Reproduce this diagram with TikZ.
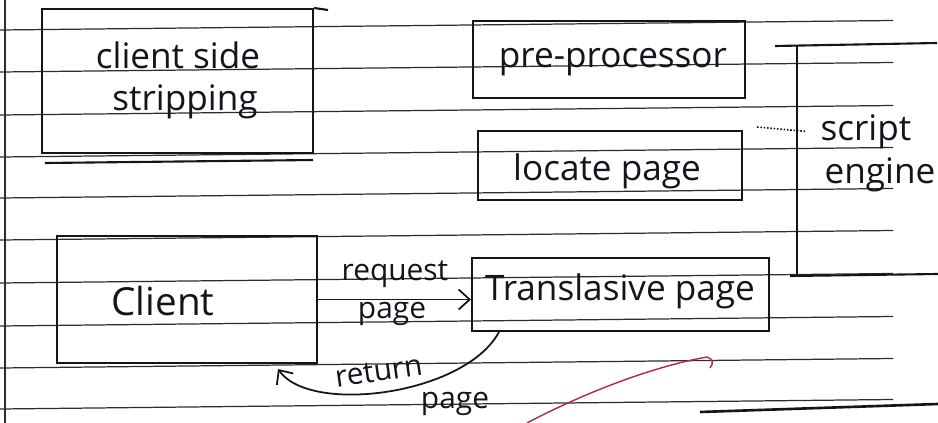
\documentclass[tikz,border=0pt]{standalone}
\usepackage{fontspec}
\setmainfont{Open Sans}
\usetikzlibrary{arrows.meta}
\definecolor{ink}{RGB}{20,20,28}
\definecolor{ruleink}{RGB}{45,45,45}
\definecolor{redpen}{RGB}{180,40,70}
\begin{document}
\begin{tikzpicture}[x=0.02cm,y=-0.02cm,
  ruled/.style={draw=ruleink,line width=0.7pt},
  pen/.style={draw=ink,line width=1.2pt},
  box/.style={draw=ink,line width=1.2pt,inner sep=0pt},
  hand/.style={text=ink,inner sep=0pt,anchor=base,font=\fontsize{20}{22}\selectfont},
  small/.style={text=ink,inner sep=0pt,anchor=base,font=\fontsize{17}{19}\selectfont},
  arr/.style={draw=ink,line width=1.0pt,-{Straight Barb[length=2.2mm,width=4mm]}}]
\fill[white] (0,0) rectangle (938,423);
\useasboundingbox (0,0) rectangle (938,423);
% ruled paper lines
\foreach \yy in {30,72,115,157,198,240,283,326,368,409}
  \draw[ruled] (0,\yy) -- (893,\yy-9.5);
\draw[ruled] (5,0) -- (5,423);
\draw[ink,line width=1.5pt] (700,412) -- (938,404);
% boxes
\node[box,minimum width=5.42cm,minimum height=2.88cm] (css) at (177.5,81) {};
\node[box,minimum width=5.44cm,minimum height=1.54cm] (pre) at (609,59.5) {};
\node[box,minimum width=5.28cm,minimum height=1.38cm] (loc) at (610,165.5) {};
\node[box,minimum width=5.2cm,minimum height=2.54cm] (cli) at (187,299.5) {};
\node[box,minimum width=5.94cm,minimum height=1.46cm] (tra) at (620.5,294.5) {};
% extra hand strokes of the boxes
\draw[pen] (css.north east) -- (328,10);
\draw[pen] (45,163) -- (313,160);
% script engine bracket
\coordinate (seTop) at (797,45);
\coordinate (seBot) at (797,275);
\draw[pen] (775,46) -- (937,43);
\draw[pen] (seTop) -- (seBot);
\draw[pen] (790,276) -- (938,274);
% texts
\node[hand] (t1) at (178,68) {client side};
\node[hand] (t2) at (185,110) {stripping};
\node[hand] (t3) at (613,67) {pre-processor};
\node[hand] (t4) at (607,180) {locate page};
\node[hand] (t5) at (866,140) {script};
\node[hand] (t6) at (880,183) {engine};
\node[hand,font=\fontsize{22}{24}\selectfont] (t7) at (163,315) {Client};
\node[hand] (t8) at (620,300) {Translasive page};
\node[small] (t9) at (395,280) {request};
\node[small] (t10) at (392,318) {page};
\node[small,rotate=8] (t11) at (380,381) {return};
\node[small] (t12) at (455,408) {page};
% connectors
\draw[arr] (cli.east) -- (cli.east -| tra.west);
\draw[arr] ([xshift=0.56cm]tra.south west) .. controls (465,395) and (310,415) .. ([xshift=-0.8cm,yshift=-0.1cm]cli.south east);
\coordinate (dotA) at (757,127);
\draw[ink,densely dotted,line width=0.9pt] (dotA) -- ([xshift=-0.3cm]t5.west);
% red pen stroke
\draw[redpen,line width=0.8pt] (527,423) .. controls (580,395) and (650,367) .. (707,357) .. controls (713,359) and (714,363) .. (710,368);
\end{tikzpicture}
\end{document}
